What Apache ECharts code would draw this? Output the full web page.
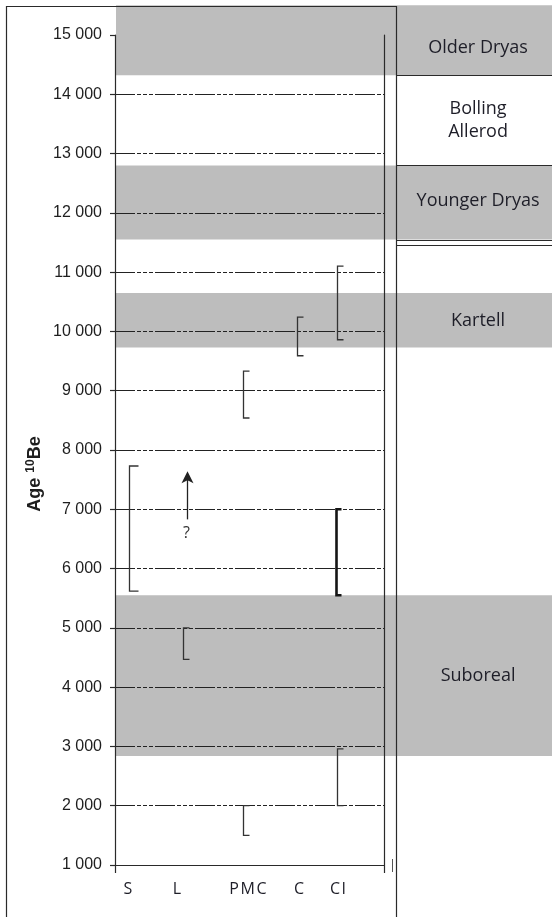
<!DOCTYPE html>
<html>
<head>
<meta charset="utf-8">
<script src="https://cdn.jsdelivr.net/npm/echarts@6/dist/echarts.min.js"></script>
<style>
  html, body { margin: 0; padding: 0; background: #fff; }
  #chart { width: 552px; height: 917px; }
</style>
</head>
<body>
<div id="chart"></div>
<script>
// Sites along the horizontal axis (position on a 0-100 scale)
const siteNames = ['S', 'L', 'PMC', 'C', 'CI'];
const siteLabels = ['S', 'L', 'P\u200aM\u200aC', 'C', 'C\u200aI'];
const sitePos = [4.8, 23, 49.4, 68.4, 82.9];

// Age ranges (10Be ages, years) drawn as brackets
const rangeSite = ['S', 'L', 'PMC', 'PMC', 'C', 'CI', 'CI'];
const rangeX = [5.2, 25.3, 47.6, 47.6, 67.7, 82.5, 82.5];
const rangeTop = [7730, 5000, 9330, 2000, 10240, 11100, 2960];
const rangeBottom = [5620, 4470, 8540, 1500, 9590, 9860, 2000];

// Well-constrained range (heavy bracket)
const boldRangeX = [82.2];
const boldRangeTop = [7000];
const boldRangeBottom = [5550];

// Minimum age with open upper bound (arrow)
const arrowX = [26.8];
const arrowFrom = [6830];
const arrowTo = [7640];
const arrowNote = ['?'];

// Climatic periods (shaded bands)
const bandStart = [14320, 11550, 9730, 2840];
const bandEnd = [15500, 12800, 10650, 5550];
const periodNames = ['Older Dryas', 'Bolling\nAllerod', 'Younger Dryas', 'Kartell', 'Suboreal'];
const periodLabelAge = [14780, 13560, 12200, 10175, 4190];
const periodBoundaries = [14320, 12800, 11550, 11450];

const yMin = 1000, yMax = 15000, yStep = 1000;
const ink = '#2a2a2a';
const bandFill = '#bdbdbd';
const labelInk = '#1e1e28';

const fmtThousands = v => String(v).replace(/\B(?=(\d{3})+(?!\d))/g, ' ');

const chart = echarts.init(document.getElementById('chart'), null, { renderer: 'canvas' });

const option = {
  animation: false,
  backgroundColor: '#fff',
  grid: [
    { left: 115, right: 168, top: 35, bottom: 52 },
    { left: 396, right: 0, top: 35, bottom: 52 }
  ],
  xAxis: [
    {
      gridIndex: 0, type: 'value', min: 0, max: 100,
      axisLine: { show: true, lineStyle: { color: ink, width: 1.2 } },
      axisTick: { show: true, customValues: [0, 100], length: 8, lineStyle: { color: ink, width: 1.2 } },
      axisLabel: {
        show: true, customValues: sitePos, margin: 16,
        formatter: v => { const i = sitePos.indexOf(v); return i >= 0 ? siteLabels[i] : ''; },
        fontFamily: 'Open Sans', fontSize: 16, fontWeight: 500, color: labelInk
      },
      splitLine: { show: false }
    },
    { gridIndex: 1, type: 'value', min: 0, max: 1, show: false }
  ],
  yAxis: [
    {
      gridIndex: 0, type: 'value', min: yMin, max: yMax, interval: yStep,
      axisLine: { show: true, lineStyle: { color: ink, width: 1.2 } },
      axisTick: { show: true, length: 5, lineStyle: { color: ink, width: 1.2 } },
      axisLabel: {
        margin: 13, formatter: fmtThousands,
        fontFamily: 'Liberation Sans', fontSize: 16, color: '#1e1e1e'
      },
      splitLine: {
        show: true, showMinLine: false, showMaxLine: false,
        lineStyle: { color: '#222', width: 1, type: [20, 2, 4, 2, 4, 2, 4, 2] }
      }
    },
    {
      gridIndex: 0, type: 'value', min: yMin, max: yMax, position: 'right',
      axisLine: { show: true, onZero: false, lineStyle: { color: ink, width: 1.2 } },
      axisTick: { show: false }, axisLabel: { show: false }, splitLine: { show: false }
    },
    { gridIndex: 1, type: 'value', min: yMin, max: yMax, show: false }
  ],
  graphic: [
    // outer frame of the plotting panel
    { type: 'polyline', z: 100, shape: { points: [[6.5, 917], [6.5, 6.5], [396.5, 6.5], [396.5, 917]] },
      style: { stroke: ink, lineWidth: 1.2, fill: null } },
    { type: 'line', z: 100, shape: { x1: 392.5, y1: 859, x2: 392.5, y2: 872 },
      style: { stroke: '#555', lineWidth: 1 } },
    // vertical axis title
    {
      type: 'text', z: 100, x: 35, y: 474, rotation: Math.PI / 2,
      style: {
        text: '{a|Age }{s|10}{a|Be}',
        align: 'center', verticalAlign: 'middle',
        rich: {
          a: { fontFamily: 'Liberation Sans', fontWeight: 'bold', fontSize: 18, fill: '#1e1e1e', lineHeight: 21 },
          s: { fontFamily: 'Liberation Sans', fontWeight: 'bold', fontSize: 12, fill: '#1e1e1e', verticalAlign: 'top', lineHeight: 21 }
        }
      }
    }
  ],
  series: [
    {
      // shaded period bands, running across the plot and the period column
      type: 'custom', xAxisIndex: 0, yAxisIndex: 0, z: -1, clip: false, silent: true,
      encode: { y: [0, 1] },
      data: bandStart.map((s, i) => [s, bandEnd[i]]),
      renderItem: (params, api) => {
        const cs = params.coordSys;
        const lo = api.coord([0, api.value(0)]);
        const hi = api.coord([0, api.value(1)]);
        return {
          type: 'rect',
          shape: { x: cs.x + 1, y: hi[1], width: api.getWidth() - cs.x - 1, height: lo[1] - hi[1] },
          style: { fill: bandFill }
        };
      }
    },
    {
      // age ranges
      type: 'custom', xAxisIndex: 0, yAxisIndex: 0, z: 5, clip: false, silent: true,
      encode: { x: 0, y: [1, 2] },
      data: rangeX.map((x, i) => [x, rangeTop[i], rangeBottom[i], rangeSite[i]]),
      renderItem: (params, api) => {
        const x = api.value(0);
        const a = api.coord([x, api.value(1)]);
        const b = api.coord([x, api.value(2)]);
        const s = rangeSite[params.dataIndex] === 'S' ? 9 : 6;
        const px = Math.round(a[0]) + 0.5;
        return {
          type: 'polyline',
          shape: { points: [[px + s, a[1]], [px, a[1]], [px, b[1]], [px + s, b[1]]] },
          style: { stroke: '#333', lineWidth: 1.3, fill: null }
        };
      }
    },
    {
      // well-constrained range
      type: 'custom', xAxisIndex: 0, yAxisIndex: 0, z: 5, clip: false, silent: true,
      encode: { x: 0, y: [1, 2] },
      data: boldRangeX.map((x, i) => [x, boldRangeTop[i], boldRangeBottom[i]]),
      renderItem: (params, api) => {
        const x = api.value(0);
        const a = api.coord([x, api.value(1)]);
        const b = api.coord([x, api.value(2)]);
        const px = Math.round(a[0]) + 0.5;
        return {
          type: 'polyline',
          shape: { points: [[px + 5, a[1]], [px, a[1]], [px, b[1]], [px + 5, b[1]]] },
          style: { stroke: '#151515', lineWidth: 2.6, fill: null }
        };
      }
    },
    {
      // open-ended minimum age
      type: 'custom', xAxisIndex: 0, yAxisIndex: 0, z: 5, clip: false, silent: true,
      encode: { x: 0, y: [1, 2] },
      data: arrowX.map((x, i) => [x, arrowFrom[i], arrowTo[i]]),
      renderItem: (params, api) => {
        const x = api.value(0);
        const base = api.coord([x, api.value(1)]);
        const tip = api.coord([x, api.value(2)]);
        const px = Math.round(base[0]) + 0.5;
        return {
          type: 'group',
          children: [
            { type: 'line', shape: { x1: px, y1: base[1], x2: px, y2: tip[1] + 8 },
              style: { stroke: '#222', lineWidth: 1.3 } },
            { type: 'polygon',
              shape: { points: [[px, tip[1]], [px - 6, tip[1] + 12], [px, tip[1] + 9], [px + 6, tip[1] + 12]] },
              style: { fill: '#222' } },
            { type: 'text', x: px - 1, y: base[1] + 14,
              style: { text: arrowNote[params.dataIndex], align: 'center', verticalAlign: 'middle',
                       font: '500 16px "Open Sans"', fill: '#333' } }
          ]
        };
      }
    },
    {
      // period boundaries in the period column
      type: 'custom', xAxisIndex: 1, yAxisIndex: 2, z: 5, clip: false, silent: true,
      encode: { y: 0 },
      data: periodBoundaries.map(v => [v]),
      renderItem: (params, api) => {
        const cs = params.coordSys;
        const p = api.coord([0, api.value(0)]);
        const py = Math.round(p[1]) + 0.5;
        return {
          type: 'line',
          shape: { x1: cs.x, y1: py, x2: cs.x + cs.width, y2: py },
          style: { stroke: ink, lineWidth: 1.2 }
        };
      }
    },
    {
      // period names
      type: 'custom', xAxisIndex: 1, yAxisIndex: 2, z: 6, clip: false, silent: true,
      encode: { y: 0 },
      data: periodLabelAge.map(v => [v]),
      renderItem: (params, api) => {
        const p = api.coord([0.526, api.value(0)]);
        return {
          type: 'text', x: p[0], y: p[1],
          style: {
            text: periodNames[params.dataIndex], align: 'center', verticalAlign: 'middle',
            font: '500 18px "Open Sans"', lineHeight: 23, fill: labelInk
          }
        };
      }
    }
  ]
};

chart.setOption(option);
</script>
</body>
</html>
